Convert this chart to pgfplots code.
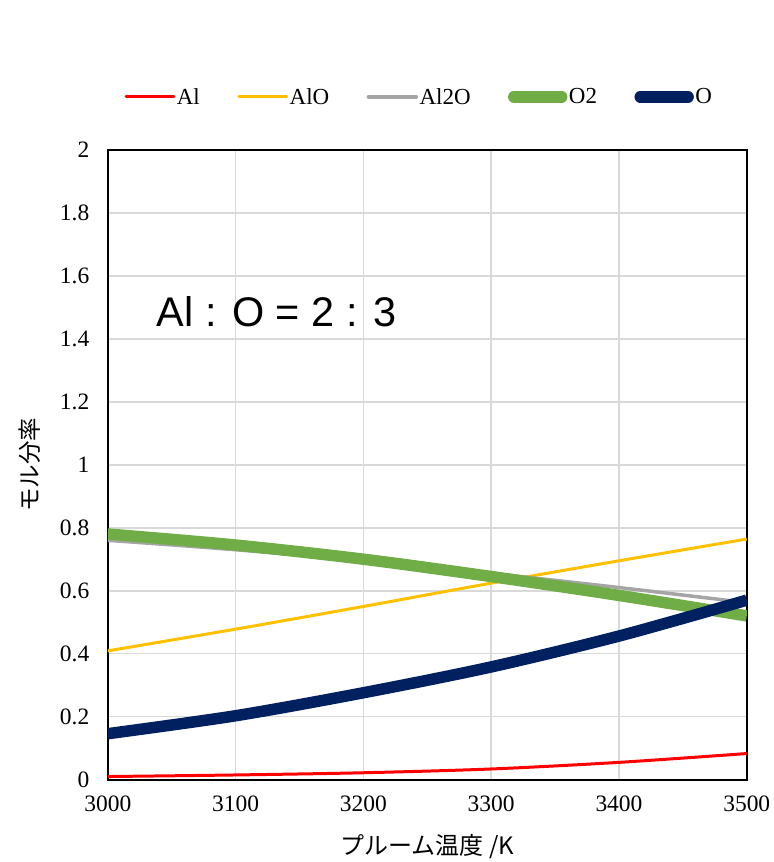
\documentclass[border=0pt]{standalone}
\usepackage{fontspec}
\setmainfont{Liberation Serif}
\newfontfamily\jp{Noto Sans CJK JP}
\newfontfamily\arial{Liberation Sans}
\usepackage{pgfplots}
\pgfplotsset{compat=1.18}
\definecolor{cAl}{HTML}{FF0000}
\definecolor{cAlO}{HTML}{FFC000}
\definecolor{cAlii}{HTML}{A5A5A5}
\definecolor{cOii}{HTML}{70AD47}
\definecolor{cO}{HTML}{002060}
\definecolor{gridc}{HTML}{D9D9D9}
\begin{document}
\begin{tikzpicture}
\path (0,0) rectangle (774pt,862pt);
\begin{axis}[
  at={(108pt,81pt)}, anchor=south west,
  scale only axis, width=640pt, height=631pt,
  xmin=3000, xmax=3500, ymin=0, ymax=2,
  xtick={3000,3100,...,3500}, ytick={0,0.2,...,2},
  yticklabels={0,0.2,0.4,0.6,0.8,1,1.2,1.4,1.6,1.8,2},
  xticklabel style={/pgf/number format/1000 sep={}},
  /pgf/number format/assume math mode=true,
  tick style={draw=none},
  ticklabel style={font=\fontsize{23.5}{28}\selectfont},
  xticklabel style={yshift=-13pt},
  yticklabel style={xshift=-15pt},
  grid=major, major grid style={gridc, line width=1.6pt},
  axis line style={black, line width=1.8pt},
  xlabel={\jp プルーム温度 /K},
  ylabel={\jp モル分率},
  xlabel style={font=\fontsize{24}{28}\selectfont, at={(axis description cs:0.5,-0.106)}, anchor=center},
  ylabel style={font=\fontsize{23.5}{28}\selectfont, at={(axis description cs:-0.122,0.5)}, anchor=center},
  legend columns=5,
  legend style={draw=none, fill=none, at={(0.487,1.084)}, anchor=center,
    font=\fontsize{23}{27}\selectfont,
    /tikz/every even column/.append style={column sep=36pt},
    /tikz/every odd column/.append style={column sep=0pt},
    nodes={inner xsep=1.5pt}},
  legend image code/.code={\draw[#1, line cap=round] (0pt,0pt) -- (48pt,0pt);},
  clip=true,
]
\addplot[cAl, line width=3pt, smooth] coordinates {(3000,0.010) (3100,0.015) (3200,0.022) (3300,0.034) (3400,0.055) (3500,0.083)};
\addlegendentry{Al}
\addplot[cAlO, line width=3pt, smooth] coordinates {(3000,0.409) (3100,0.478) (3200,0.550) (3300,0.624) (3400,0.695) (3500,0.764)};
\addlegendentry{AlO}
\addplot[cAlii, line width=3.5pt, smooth] coordinates {(3000,0.760) (3100,0.730) (3200,0.695) (3300,0.655) (3400,0.610) (3500,0.562)};
\addlegendentry{Al2O}
\addplot[cOii, line width=11.5pt, smooth] coordinates {(3000,0.780) (3100,0.745) (3200,0.700) (3300,0.645) (3400,0.585) (3500,0.520)};
\addlegendentry{O2}
\addplot[cO, line width=11.5pt, smooth] coordinates {(3000,0.146) (3100,0.203) (3200,0.276) (3300,0.358) (3400,0.456) (3500,0.570)};
\addlegendentry{O}
\node[font=\arial\fontsize{41.5}{46}\selectfont] at (axis cs:3132,1.487) {Al : O = 2 : 3};
\end{axis}
\end{tikzpicture}
\end{document}
